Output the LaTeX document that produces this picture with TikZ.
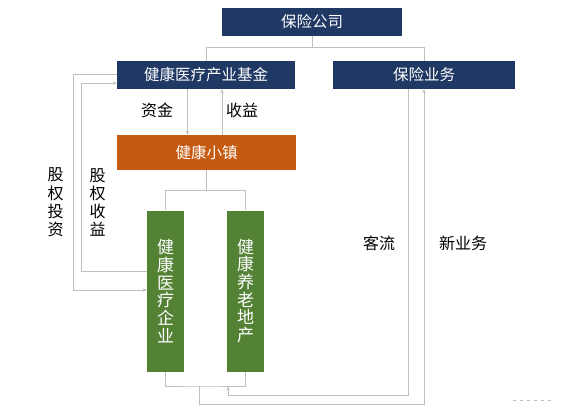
\documentclass[tikz,border=0pt]{standalone}
\usepackage{fontspec}
\setmainfont{Noto Sans CJK SC}
\usetikzlibrary{arrows.meta}
\definecolor{navy}{HTML}{1F3864}
\definecolor{orng}{HTML}{C55A11}
\definecolor{grn}{HTML}{548235}
\definecolor{ln}{HTML}{BFBFBF}
\tikzset{
  bluebox/.style={fill=navy, text=white, minimum width=180pt, minimum height=28pt, inner sep=0pt, font=\fontsize{15.5}{17}\selectfont},
  orangebox/.style={fill=orng, text=white, minimum width=179pt, minimum height=35pt, inner sep=0pt, font=\fontsize{15.5}{17}\selectfont},
  greenbox/.style={fill=grn, text=white, minimum width=37pt, minimum height=161pt, inner sep=0pt, align=center, font=\fontsize{17}{17.7}\selectfont},
  conn/.style={draw=ln, line width=0.9pt},
  arr/.style={conn, -{Stealth[length=4pt,width=3.5pt]}},
  lbl/.style={text=black, inner sep=0pt, align=center, font=\fontsize{16}{18.3}\selectfont},
}
\begin{document}
\begin{tikzpicture}[x=1pt,y=-1pt]
\useasboundingbox[fill=white] (0,0) rectangle (573,415);
\node[bluebox] (gs) at (312,21.5) {保险公司};
\node[bluebox, minimum width=178pt] (jj) at (206,75) {健康医疗产业基金};
\node[bluebox, minimum width=182pt] (bx) at (424,75) {保险业务};
\node[orangebox] (xz) at (206.5,152.5) {健康小镇};
\node[greenbox] (yl) at (165.5,291) {健\\康\\医\\疗\\企\\业};
\node[greenbox] (ya) at (245.5,291) {健\\康\\养\\老\\地\\产};

% top tree
\draw[conn] (gs.south) -- ++(0,12) coordinate (t1) -| (jj.north);
\draw[conn] (t1) -| (bx.north);

% fund <-> town
\draw[arr] (jj.south -| 187.5,0) -- (xz.north -| 187.5,0);
\draw[arr] (xz.north -| 222,0) -- (jj.south -| 222,0);
\node[lbl] (zj) at (157,110) {资金};
\node[lbl] (sy) at (242,110) {收益};

% town tree
\draw[conn] (xz.south) -- ++(0,20) coordinate (t2) -| (yl.north);
\draw[conn] (t2) -| (ya.north);

% bottom bracket
\coordinate (b1) at (199,386);
\draw[conn] (yl.south) |- (b1) -| (ya.south);

% new business
\draw[arr] (b1) -- (199,404) -| (bx.south);
% customer flow
\draw[arr] (bx.south -| 408,0) |- (228,395) -- (228,386.5);

% equity investment
\draw[arr] (jj.west |- 0,74) -| (73,290) -- (yl.west |- 0,290);
% equity returns
\draw[arr] (yl.west |- 0,271) -| (81.5,83) -- (jj.west |- 0,83);

\node[lbl] (gt) at (55.5,202.5) {股\\权\\投\\资};
\node[lbl] (gsy) at (97.5,202.5) {股\\权\\收\\益};
\node[lbl] (kl) at (379,243) {客流};
\node[lbl] (xyw) at (463,243) {新业务};

% faint watermark dashes
\draw[ln, line width=0.8pt, dash pattern=on 3pt off 4pt] (513,400) -- (551,400);
\end{tikzpicture}
\end{document}
